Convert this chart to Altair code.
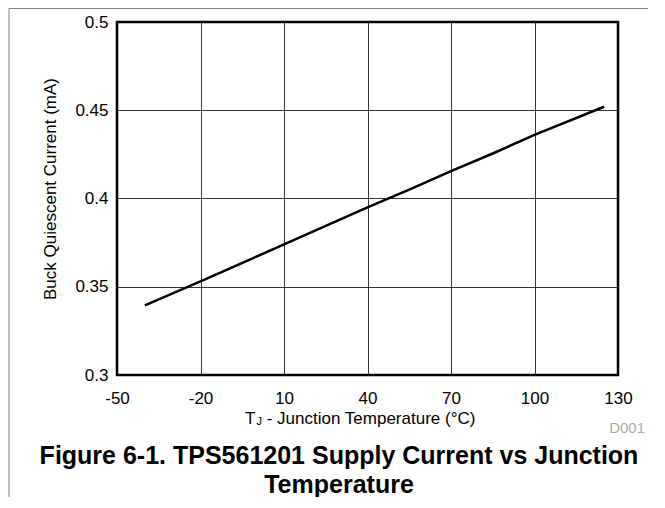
import altair as alt
import pandas as pd

# Data
temps = [-40, -20, 10, 25, 40, 55, 70, 85, 100, 125]
current = [0.3395, 0.353, 0.374, 0.3845, 0.395, 0.405, 0.4155, 0.4255, 0.436, 0.452]

x_ticks = [-50, -20, 10, 40, 70, 100, 130]
y_ticks = [0.3, 0.35, 0.4, 0.45, 0.5]

y_title = "Buck Quiescent Current (mA)"
x_title_main = "T"
x_title_sub = "J"
x_title_rest = "- Junction Temperature (°C)"
figure_id = "D001"
caption_1 = "Figure 6-1. TPS561201 Supply Current vs Junction"
caption_2 = "Temperature"

FONT = "Liberation Sans"

df = pd.DataFrame({"temp": temps, "current": current})

line = alt.Chart(df).mark_line(color="black", strokeWidth=2.5).encode(
    x=alt.X("temp:Q",
            scale=alt.Scale(domain=[-50, 130], nice=False, zero=False),
            axis=alt.Axis(values=x_ticks, title=None, ticks=False,
                          labelExpr="datum.value < 0 ? '-' + abs(datum.value) : '' + datum.value",
                          domain=False, labelPadding=15, labelFontSize=17,
                          labelFont=FONT, labelColor="black", grid=True,
                          gridColor="black", gridWidth=1, gridOpacity=0.8,
                          labelFlush=False)),
    y=alt.Y("current:Q",
            scale=alt.Scale(domain=[0.3, 0.5], nice=False, zero=False),
            axis=alt.Axis(values=y_ticks, format="~g", title=None, ticks=False,
                          domain=False, labelPadding=9, labelFontSize=17,
                          labelFont=FONT, labelColor="black", grid=True,
                          gridColor="black", gridWidth=1, gridOpacity=0.8,
                          labelFlush=False)),
)


def txt(value, x, y, size, **kw):
    return alt.Chart(pd.DataFrame({"t": [value]})).mark_text(
        font=FONT, fontSize=size, **kw
    ).encode(x=alt.value(x), y=alt.value(y), text="t:N")


one = pd.DataFrame({"a": [0]})
frame_left = alt.Chart(one).mark_rule(color="#808080", strokeWidth=1).encode(
    x=alt.value(-108), y=alt.value(-13.5), y2=alt.value(490))
frame_top = alt.Chart(one).mark_rule(color="#808080", strokeWidth=1).encode(
    x=alt.value(-108), x2=alt.value(560), y=alt.value(-13.5))

layers = [
    line,
    txt(y_title, -66, 167, 17, angle=270, align="center", baseline="middle", color="black"),
    txt(x_title_main, 128, 402, 17, align="left", baseline="alphabetic", color="black"),
    txt(x_title_sub, 139.5, 403, 11, align="left", baseline="alphabetic", color="black"),
    txt(x_title_rest, 149.7, 402, 17, align="left", baseline="alphabetic", color="black"),
    txt(figure_id, 528, 411, 15, align="right", baseline="alphabetic", color="#aaaaaa"),
    txt(caption_1, 222, 442, 25, align="center", baseline="alphabetic", fontWeight="bold", color="black"),
    txt(caption_2, 222, 471, 25, align="center", baseline="alphabetic", fontWeight="bold", color="black"),
    frame_left,
    frame_top,
]

chart = alt.layer(*layers).properties(
    width=501, height=353,
    autosize=alt.AutoSizeParams(type="none"),
    padding={"left": 109, "top": 14, "right": 30, "bottom": 122},
).configure_view(stroke="black", strokeWidth=2.5)

chart.save("out.html", embed_options={"renderer": "svg", "actions": False})
